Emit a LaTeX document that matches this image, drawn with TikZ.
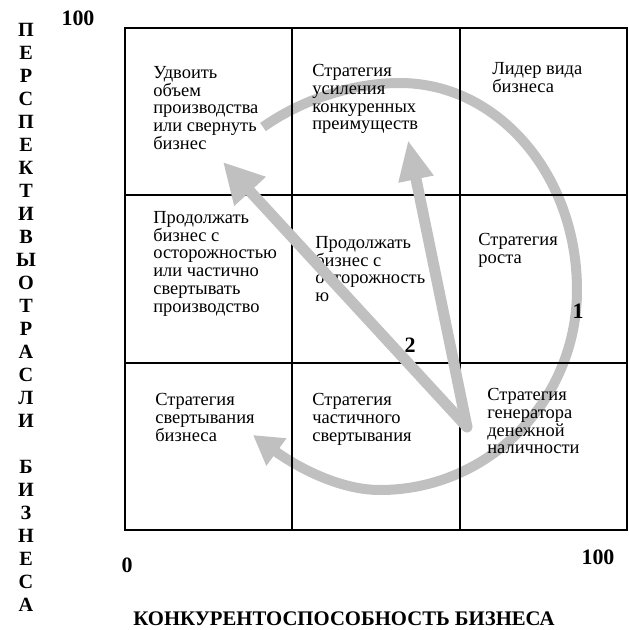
\documentclass[tikz,border=0pt]{standalone}
\usepackage{fontspec}
\setmainfont{Liberation Serif}
\usetikzlibrary{positioning,arrows.meta}
\definecolor{arrowColor}{RGB}{192, 192, 192}
\definecolor{gridColor}{RGB}{0, 0, 0}

\begin{document}
\begin{tikzpicture}[
		x=0.02cm, y=-0.02cm,
		% Define styles for nodes
		celltext/.style={
				anchor=north west,
				inner sep=0pt,
				align=left,
				font=\fontsize{10.5}{10.1}\selectfont
			},
		axislabel/.style={
				inner sep=0pt,
				font=\fontsize{12.5}{12.5}\selectfont\bfseries
			},
		gridline/.style={
				draw=gridColor,
				line width=1.2pt
			},
		bigarrow/.style={
				-{Triangle[width=#1, length=0.8cm]},
				line width=0.22cm,
				line cap=round,
				draw=arrowColor
			},
		curvedarrow/.style={
				-{Triangle[width=0.64cm, length=0.58cm]},
				line width=0.2cm,
				draw=arrowColor
			}
	]

	\useasboundingbox (0,0) rectangle (629,630);

	% Set up fixed grid spacing
	\def\gridleft{125}
	\def\gridtop{28}
	\def\cellsize{167.4}

	% ROUND ARROW (behind the grid)
	\coordinate (arcstart) at (263,127);
	\coordinate (arctop) at (400,83);
	\coordinate (arcright) at (577,290);
	\coordinate (arcbottom) at (380,490);
	\coordinate (arcend) at (253,435);
	\draw[curvedarrow] (arcstart) .. controls (300,101) and (350,83) .. (arctop)
		.. controls (498,83) and (577,175) .. (arcright)
		.. controls (577,400) and (489,490) .. (arcbottom)
		.. controls (335,490) and (290,462) .. (arcend);

	% GRID
	\draw[gridline] (\gridleft,\gridtop) rectangle (\gridleft+3*\cellsize,\gridtop+3*\cellsize);
	\foreach \i in {1,2} {
		\draw[gridline] (\gridleft+\i*\cellsize,\gridtop) -- (\gridleft+\i*\cellsize,\gridtop+3*\cellsize);
		\draw[gridline] (\gridleft,\gridtop+\i*\cellsize) -- (\gridleft+3*\cellsize,\gridtop+\i*\cellsize);
	}

	% Top row
	\node[celltext] (doubleout) at (153,66) {Удвоить\\объем\\производства\\или свернуть\\бизнес};
	\node[celltext] (strengthen) at (312,64) {Стратегия\\усиления\\конкуренных\\преимуществ};
	\node[celltext] (leader) at (492,62) {Лидер вида\\бизнеса};

	% Middle row
	\node[celltext] (carefulcut) at (153,211) {Продолжать\\бизнес с\\осторожностью\\или частично\\свертывать\\производство};
	\node[celltext] (careful) at (315,236) {Продолжать\\бизнес с\\осторожность\\ю};
	\node[celltext] (growth) at (478,233) {Стратегия\\роста};

	% Bottom row
	\node[celltext] (shutdown) at (155,393) {Стратегия\\свертывания\\бизнеса};
	\node[celltext] (partcut) at (312,393) {Стратегия\\частичного\\свертывания};
	\node[celltext] (cashcow) at (487,388) {Стратегия\\генератора\\денежной\\наличности};

	% Path numbers
	\node[axislabel] (pathone) at (578,311) {1};
	\node[axislabel] (pathtwo) at (410,345) {2};

	% AXES
	\node[axislabel] (ymax) at (78,18) {100};
	\node[axislabel] (origin) at (127,565) {0};
	\node[axislabel] (xmax) at (598,557) {100};
	\node[axislabel, font=\fontsize{11.8}{11.8}\selectfont\bfseries] (xlabel) at (344,619) {КОНКУРЕНТОСПОСОБНОСТЬ БИЗНЕСА};
	\node[inner sep=0pt, anchor=north, align=center,
		font=\fontsize{11.5}{13.1}\selectfont\bfseries] (ylabel) at (26,23)
		{П\\Е\\Р\\С\\П\\Е\\К\\Т\\И\\В\\Ы\\О\\Т\\Р\\А\\С\\Л\\И\\~\\Б\\И\\З\\Н\\Е\\С\\А};

	% ARROWS: from the cash generator
	\coordinate (fork) at (467,427);
	\coordinate (tipleft) at (223,162);
	\coordinate (tipup) at (408,140);
	\draw[bigarrow=0.8cm] (fork) -- (tipleft);
	\draw[bigarrow=0.66cm] (fork) -- (tipup);

\end{tikzpicture}
\end{document}
